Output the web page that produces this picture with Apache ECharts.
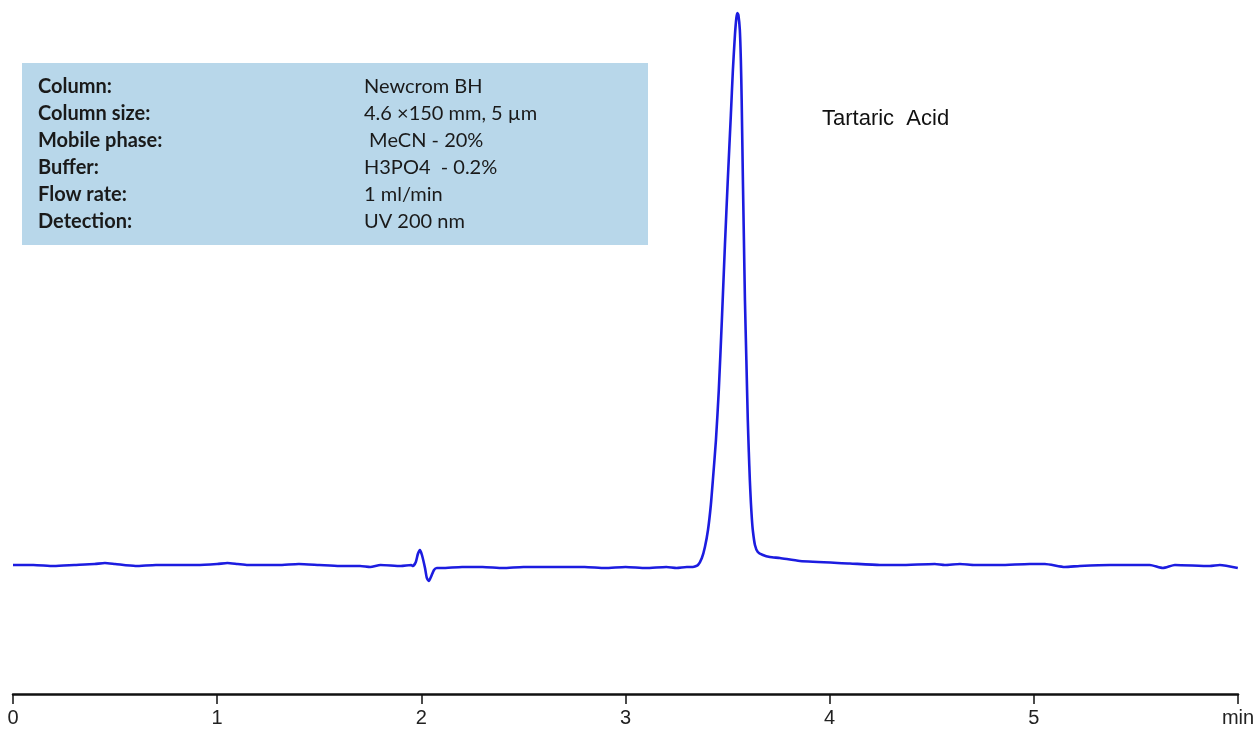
<!DOCTYPE html>
<html>
<head>
<meta charset="utf-8">
<script src="https://cdn.jsdelivr.net/npm/echarts@6/dist/echarts.min.js"></script>
<style>html,body{margin:0;padding:0;background:#fff}#c{width:1258px;height:729px}</style>
</head>
<body>
<div id="c"></div>
<script>
// Retention time (min)
const times = [
  0, 0.1, 0.2, 0.3, 0.4, 0.45, 0.5, 0.6, 0.7, 0.8, 0.9, 1.0, 1.05, 1.1, 1.15, 1.2, 1.3, 1.4, 1.5, 1.6, 1.7, 1.75, 1.8, 1.9, 1.95,
  1.959, 1.973, 1.983, 1.993, 2.003, 2.018, 2.027, 2.037, 2.047, 2.062, 2.076,
  2.1, 2.2, 2.3, 2.4, 2.5, 2.6, 2.7, 2.8, 2.9, 3.0, 3.1, 3.2, 3.25, 3.3,
  3.330, 3.355, 3.374, 3.389, 3.404, 3.418, 3.428, 3.443, 3.457, 3.472, 3.487, 3.501, 3.516, 3.526, 3.536, 3.543, 3.548, 3.553,
  3.560, 3.565, 3.569, 3.575, 3.580, 3.585, 3.592, 3.599, 3.604, 3.609, 3.614, 3.619, 3.624, 3.634, 3.648, 3.673, 3.707, 3.756, 3.854,
  4.099, 4.246, 4.344, 4.515, 4.564, 4.638, 4.711, 4.834, 4.980, 5.054, 5.152, 5.225, 5.372, 5.568, 5.632, 5.691, 5.862, 5.911, 5.999
];
// Detector signal (mAU, arbitrary)
const signal = [
  1, 1, 0, 1, 2, 3, 2, 0, 1, 1, 1, 2, 3, 2, 1, 1, 1, 2, 1, 0, 0, -1, 1, 0, 1,
  0, 4, 12, 16, 11, -2, -12, -15, -11, -4, -2,
  -2, -1, -1, -2, -1, -1, -1, -1, -2, -1, -2, -1, -2, -1,
  -1, 1, 8, 19, 36, 61, 86, 126, 176, 246, 321, 386, 451, 496, 531, 548, 553, 551,
  536, 506, 466, 386, 326, 266, 206, 146, 114, 86, 64, 47, 35, 21, 14, 11, 9, 8, 5,
  2.5, 1, 1, 2, 1, 2, 1, 1, 2, 2, -1, 0, 1, 1, -2, 1, 0, 1, -2
];
const xTicks = ["0", "1", "2", "3", "4", "5", "min"];
const infoLabels = ["Column:", "Column size:", "Mobile phase:", "Buffer:", "Flow rate:", "Detection:"];
const infoValues = ["Newcrom BH", "4.6 \u00d7150 mm, 5 \u00b5m", " MeCN - 20%", "H3PO4  - 0.2%", "1 ml/min", "UV 200 nm"];
const peakName = "Tartaric  Acid";

const chart = echarts.init(document.getElementById('c'), null, {renderer: 'canvas'});
const pts = times.map((t, i) => [t, signal[i]]);

const graphics = [{
  type: 'rect', left: 22, top: 63, z: 0,
  shape: {width: 626, height: 182},
  style: {fill: '#b8d7ea'}
}];
infoLabels.forEach((s, i) => {
  graphics.push({type: 'text', left: 38, top: 77 + i * 27, z: 1,
    style: {text: s, font: 'bold 20px Lato, "Open Sans", sans-serif', fill: '#1a1a1a'}});
  graphics.push({type: 'text', left: 364, top: 77 + i * 27, z: 1,
    style: {text: infoValues[i], font: '20px Lato, "Open Sans", sans-serif', fill: '#1a1a1a'}});
});
graphics.push({type: 'text', left: 822, top: 108, z: 1,
  style: {text: peakName, font: '22px "Liberation Sans", Arial, sans-serif', fill: '#111'}});

chart.setOption({
  animation: false,
  backgroundColor: '#fff',
  grid: {left: 13, right: 20, top: 0, bottom: 35, containLabel: false},
  xAxis: {
    type: 'value', min: 0, max: 6, interval: 1,
    axisLine: {show: true, onZero: false, lineStyle: {color: '#111', width: 2.5}},
    axisTick: {show: true, length: 10, lineStyle: {color: '#111', width: 1.5}},
    axisLabel: {
      margin: 14, fontSize: 20, color: '#222', fontFamily: '"Liberation Sans", Arial, sans-serif',
      formatter: v => xTicks[Math.round(v)]
    },
    splitLine: {show: false}
  },
  yAxis: {type: 'value', min: -128, max: 566, show: false, splitLine: {show: false}},
  series: [{
    type: 'line', data: pts, showSymbol: false, smooth: 0.2,
    lineStyle: {color: '#1c1ce0', width: 2.6},
    clip: false
  }],
  graphic: graphics
});
</script>
</body>
</html>
